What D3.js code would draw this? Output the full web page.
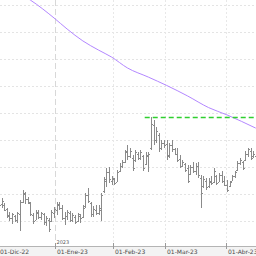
<!DOCTYPE html>
<html lang="es">
<head>
  <meta charset="UTF-8">
  <title>d3</title>
  <script src="https://d3js.org/d3.v7.min.js"></script>
  <style>
    html, body { margin: 0; padding: 0; background: #fff; }
    svg { display: block; }
  </style>
</head>
<body>
  <div class="canvas"></div>
  <script>
    // datos (precio de cada barra, en orden de fecha)
    const highs = [14.85,14.85,14.67,14.48,14.33,14.30,14.22,14.33,14.78,15.15,15.07,14.89,14.70,14.30,14.41,14.41,14.33,14.30,14.19,14.11,14.41,14.52,
      14.70,14.70,14.59,14.33,14.41,14.37,14.30,14.22,14.30,14.26,14.59,15.04,15.22,14.70,14.56,14.59,14.59,15.04,15.63,15.96,
      16.00,15.67,15.59,15.89,16.15,16.26,16.63,16.81,16.70,16.44,16.63,16.56,16.63,16.44,16.56,16.56,17.85,17.74,
      17.48,17.26,17.00,17.00,17.00,16.89,17.00,16.70,16.70,16.44,16.26,16.15,16.07,16.07,16.19,16.15,16.19,15.70,15.67,15.59,15.59,15.67,15.96,
      15.70,15.78,15.85,15.67,15.52,15.48,15.70,15.85,16.22,16.33,16.22,16.59,16.70,16.70,16.59,16.44];
    const lows = [14.52,14.48,14.37,14.11,14.00,13.89,13.96,13.93,13.63,14.67,14.63,14.63,14.19,13.89,14.04,14.07,14.04,13.85,13.81,13.59,13.96,14.11,
      14.22,14.41,14.04,13.85,14.04,13.96,13.96,13.89,13.96,13.93,14.11,14.48,14.67,14.15,14.15,14.22,14.22,14.00,15.04,15.26,
      15.41,15.33,15.33,15.44,15.81,15.96,16.15,16.26,16.33,15.85,16.19,16.26,16.26,15.85,16.07,15.81,16.63,16.81,
      16.89,16.56,16.63,16.70,16.26,16.33,16.56,16.44,16.19,15.96,16.00,15.81,15.41,15.70,15.78,15.70,15.59,14.48,15.22,15.15,15.22,15.33,15.41,
      15.33,15.44,15.41,15.30,15.07,15.26,15.48,15.59,15.85,16.07,15.89,16.22,16.37,16.26,16.33,16.22];
    const opens = [14.80,14.62,14.60,14.45,14.22,14.12,14.20,14.05,14.25,14.72,15.00,14.80,14.65,14.22,14.05,14.30,14.15,14.25,13.98,14.05,14.00,14.30,
      14.40,14.60,14.50,14.12,14.20,14.30,14.05,14.15,14.00,14.20,14.15,14.55,14.95,14.65,14.25,14.40,14.30,14.40,15.10,15.50,
      15.80,15.50,15.55,15.45,15.85,16.05,16.20,16.60,16.40,16.35,16.25,16.50,16.35,16.40,16.10,16.40,16.70,17.55,
      17.00,17.20,16.70,16.90,16.85,16.45,16.80,16.65,16.50,16.30,16.05,16.10,15.95,15.75,16.00,15.85,16.05,15.60,15.30,15.50,15.30,15.45,15.45,
      15.65,15.45,15.70,15.50,15.35,15.30,15.50,15.65,15.90,16.15,16.20,16.25,16.50,16.60,16.40,16.40];
    const closes = [14.60,14.75,14.42,14.20,14.10,14.25,14.02,14.28,14.70,15.05,14.80,14.70,14.25,14.00,14.35,14.15,14.28,13.95,14.10,13.70,14.35,14.45,
      14.62,14.48,14.10,14.20,14.35,14.05,14.22,13.95,14.25,14.10,14.50,14.95,14.75,14.25,14.45,14.30,14.50,14.95,15.55,15.80,
      15.55,15.60,15.40,15.80,16.05,16.20,16.55,16.40,16.60,15.95,16.55,16.35,16.55,15.95,16.45,16.50,17.60,17.00,
      17.35,16.70,16.90,16.80,16.40,16.80,16.65,16.50,16.25,16.05,16.20,15.90,15.50,16.00,15.85,16.05,15.70,15.05,15.55,15.25,15.50,15.40,15.85,
      15.40,15.70,15.50,15.35,15.15,15.45,15.65,15.80,16.15,16.25,15.95,16.50,16.65,16.35,16.50,16.30];

    // media movil (puntos leidos: indice de barra, valor)
    const maIdx = [10, 12, 21, 26, 32, 38, 43, 49, 57, 64, 72, 80, 87, 98];
    const maVal = [22.30, 22.18, 21.52, 21.11, 20.67, 20.33, 20.07, 19.67, 19.33, 19.02, 18.63, 18.20, 17.93, 17.44];

    // resistencia
    const resLevel = 17.85;
    const resStart = 56;

    const yTicks = [14, 15, 16, 17, 18, 19, 20, 21, 22];
    const monthNames = ['Ene','Feb','Mar','Abr','May','Jun','Jul','Ago','Sep','Oct','Nov','Dic'];

    // dias habiles del 1-dic-22 al 18-abr-23
    const dates = d3.timeDay.range(new Date(2022, 11, 1), new Date(2023, 3, 19))
                    .filter(d => d.getDay() !== 0 && d.getDay() !== 6);

    const width = 256;
    const height = 256;
    const axisY = 246;

    const svg = d3.select('.canvas')
                    .append('svg')
                    .attr('width', width)
                    .attr('height', height);

    const x = d3.scalePoint()
                  .domain(d3.range(dates.length))
                  .range([-1, -1 + (dates.length - 1) * 2.62]);
    const step = x.step();

    const y = d3.scaleLinear()
                  .domain([14, 22])
                  .range([221, 5]);

    // fondo bajo el eje
    svg.append('rect')
      .attr('x', 0).attr('y', axisY)
      .attr('width', width).attr('height', height - axisY)
      .attr('fill', '#f3f3f3');

    // rejilla horizontal
    svg.append('g')
      .selectAll('line')
      .data(yTicks)
      .join('line')
        .attr('x1', 0).attr('x2', width)
        .attr('y1', d => Math.round(y(d)) + 0.5)
        .attr('y2', d => Math.round(y(d)) + 0.5)
        .attr('stroke', '#e4e4e4')
        .attr('stroke-dasharray', '2,2');

    // primer dia de cada mes
    const monthStarts = dates.map((d, i) => i)
                             .filter(i => i === 0 || dates[i].getMonth() !== dates[i - 1].getMonth());
    const mx = i => Math.round(x(i) - step / 2) + 0.5;

    svg.append('g')
      .selectAll('line')
      .data(monthStarts)
      .join('line')
        .attr('x1', mx).attr('x2', mx)
        .attr('y1', 0).attr('y2', axisY)
        .attr('stroke', i => dates[i].getMonth() === 0 ? '#d8d8d8' : '#e8e8e8')
        .attr('stroke-dasharray', i => dates[i].getMonth() === 0 ? '6,3' : '2,2');

    // barras OHLC
    const bars = svg.append('g')
                      .attr('stroke', '#8a8a8a')
                      .attr('stroke-width', 1)
                      .attr('shape-rendering', 'crispEdges');
    const px = i => Math.round(x(i));
    const py = v => Math.round(y(v)) + 0.5;

    bars.selectAll('.hl')
      .data(d3.range(dates.length))
      .join('line')
        .attr('x1', i => px(i) + 0.5).attr('x2', i => px(i) + 0.5)
        .attr('y1', i => y(highs[i])).attr('y2', i => y(lows[i]));

    bars.selectAll('.op')
      .data(d3.range(dates.length))
      .join('line')
        .attr('x1', i => px(i) - 1).attr('x2', px)
        .attr('y1', i => py(opens[i])).attr('y2', i => py(opens[i]));

    bars.selectAll('.cl')
      .data(d3.range(dates.length))
      .join('line')
        .attr('x1', i => px(i) + 1).attr('x2', i => px(i) + 2)
        .attr('y1', i => py(closes[i])).attr('y2', i => py(closes[i]));

    // media movil
    const ma = d3.line()
                  .x(d => x(d[0]))
                  .y(d => y(d[1]))
                  .curve(d3.curveMonotoneX);
    svg.append('path')
      .attr('d', ma(maIdx.map((d, i) => [d, maVal[i]])))
      .attr('fill', 'none')
      .attr('stroke', '#b387ff')
      .attr('stroke-width', 1);

    // linea de resistencia
    svg.append('line')
      .attr('x1', x(resStart) - 1).attr('x2', width)
      .attr('y1', py(resLevel)).attr('y2', py(resLevel))
      .attr('stroke', '#2fcf2f')
      .attr('stroke-width', 1.3)
      .attr('stroke-dasharray', '5,3');

    // eje x
    svg.append('line')
      .attr('x1', 0).attr('x2', width)
      .attr('y1', axisY + 0.5).attr('y2', axisY + 0.5)
      .attr('stroke', '#b4b4b4');

    const fmt = d => '01-' + monthNames[d.getMonth()] + '-' + String(d.getFullYear()).slice(2);

    const ticks = svg.append('g')
                      .selectAll('g')
                      .data(monthStarts)
                      .join('g')
                        .attr('transform', i => `translate(${mx(i)}, 0)`);
    ticks.append('line')
      .attr('y1', axisY - 3).attr('y2', axisY + 3)
      .attr('stroke', '#9a9a9a');
    ticks.append('text')
      .attr('x', 1.5)
      .attr('y', 254)
      .attr('font-family', 'DejaVu Sans, sans-serif')
      .attr('font-size', 6)
      .attr('fill', '#4a4a4a')
      .text(i => fmt(dates[i]));

    // etiqueta del anio
    svg.append('g')
      .selectAll('text')
      .data(monthStarts.filter(i => dates[i].getMonth() === 0))
      .join('text')
        .attr('x', i => mx(i) + 1)
        .attr('y', axisY - 2)
        .attr('font-family', 'DejaVu Sans, sans-serif')
        .attr('font-size', 5)
        .attr('fill', '#5a5a5a')
        .text(i => dates[i].getFullYear());
  </script>
</body>
</html>
